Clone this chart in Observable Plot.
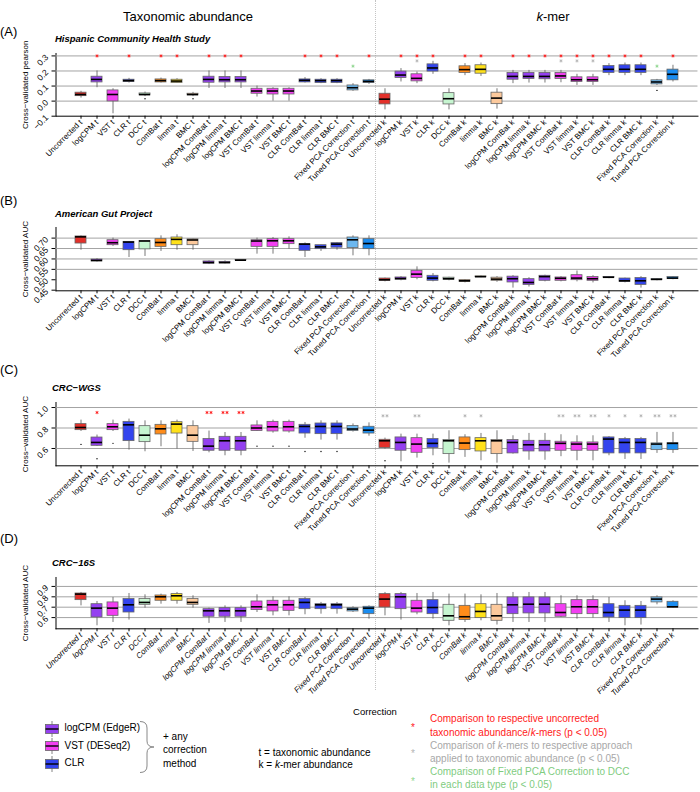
<!DOCTYPE html>
<html><head><meta charset="utf-8">
<script src="https://cdn.jsdelivr.net/npm/d3@7"></script>
<script src="https://cdn.jsdelivr.net/npm/@observablehq/plot@0.6"></script>
<style>
body{margin:0;background:#fff;}
#fig{position:relative;width:700px;height:792px;font-family:"Liberation Sans",Arial,Helvetica,sans-serif;overflow:hidden;background:#fff;}
.abs{position:absolute;white-space:nowrap;line-height:1;}
.panel{position:absolute;left:0;}
.panel svg{overflow:visible;}
.panel g[aria-label="y-axis tick label"]{font-size:8.5px;}
#pD g[aria-label="x-axis tick label"] text{font-style:italic;}
.sep{position:absolute;left:375px;top:0;height:690px;border-left:1.5px dotted #c4c4c4;}
</style></head><body>
<div id="fig">
  <div class="sep"></div>
  <div id="pA" class="panel"></div>
  <div id="pB" class="panel"></div>
  <div id="pC" class="panel"></div>
  <div id="pD" class="panel"></div>
  <div class="abs" style="left:188px;top:10px;font-size:13px;transform:translateX(-50%)">Taxonomic abundance</div>
  <div class="abs" style="left:553px;top:10px;font-size:13px;transform:translateX(-50%)"><i>k</i>-mer</div>
  <div class="abs" style="left:0;top:25px;font-size:13px">(A)</div>
  <div class="abs" style="left:55px;top:34px;font-size:9.5px;font-weight:bold;font-style:italic">Hispanic Community Health Study</div>
  <div class="abs" style="left:0;top:193.5px;font-size:13px">(B)</div>
  <div class="abs" style="left:55px;top:208.5px;font-size:9.5px;font-weight:bold;font-style:italic">American Gut Project</div>
  <div class="abs" style="left:0;top:363px;font-size:13px">(C)</div>
  <div class="abs" style="left:52px;top:383px;font-size:9.5px;font-weight:bold;font-style:italic">CRC−WGS</div>
  <div class="abs" style="left:0;top:532px;font-size:13px">(D)</div>
  <div class="abs" style="left:52px;top:557.5px;font-size:9.5px;font-weight:bold;font-style:italic">CRC−16S</div>
  <div class="abs" style="left:375px;top:707px;font-size:9.5px;transform:translateX(-50%)">Correction</div>
  <div id="legend"></div>
</div>
<script>
// ---------- categories ----------
const base = ["Uncorrected","logCPM","VST","CLR","DCC","ComBat","limma","BMC","logCPM ComBat","logCPM limma","logCPM BMC","VST ComBat","VST limma","VST BMC","CLR ComBat","CLR limma","CLR BMC","Fixed PCA Correction","Tuned PCA Correction"];
const baseColors = ["#e3302a","#9440f0","#f23ff2","#3344ee","#c6f5d0","#ff8c1a","#ffe11a","#fcc99c","#9440f0","#9440f0","#9440f0","#f23ff2","#f23ff2","#f23ff2","#3344ee","#3344ee","#3344ee","#6cb8f0","#1a8cf0"];
const categories = [...base.map(b => b + " t"), ...base.map(b => b + " k")];

// ---------- Panel A: Hispanic Community Health Study (pearson) ----------
const aLo  = [0.02,0.089,-0.084,0.12,0.03,0.12,0.12,0.03,0.084,0.084,0.084,0.027,0.0,0.0,0.12,0.116,0.116,0.065,0.111,
              -0.058,0.127,0.116,0.178,-0.058,0.169,0.164,-0.053,0.116,0.12,0.12,0.122,0.104,0.104,0.169,0.169,0.169,0.104,0.127];
const aQ1  = [0.033,0.124,-0.002,0.127,0.038,0.124,0.12,0.038,0.122,0.124,0.124,0.049,0.044,0.044,0.124,0.12,0.12,0.071,0.12,
              -0.022,0.153,0.131,0.196,-0.022,0.187,0.182,-0.02,0.142,0.147,0.145,0.147,0.127,0.127,0.187,0.187,0.187,0.111,0.138];
const aMed = [0.044,0.144,0.044,0.136,0.044,0.136,0.133,0.044,0.144,0.142,0.142,0.067,0.067,0.067,0.138,0.136,0.136,0.089,0.131,
              0.013,0.173,0.151,0.22,0.016,0.209,0.211,0.02,0.164,0.164,0.164,0.167,0.142,0.142,0.211,0.211,0.211,0.127,0.178];
const aQ3  = [0.056,0.162,0.071,0.142,0.051,0.144,0.142,0.049,0.162,0.16,0.16,0.082,0.082,0.082,0.144,0.142,0.142,0.104,0.138,
              0.049,0.196,0.178,0.244,0.053,0.231,0.238,0.056,0.187,0.187,0.187,0.187,0.158,0.158,0.233,0.238,0.238,0.138,0.209];
const aHi  = [0.065,0.2,0.082,0.151,0.06,0.153,0.149,0.058,0.2,0.2,0.2,0.1,0.089,0.089,0.156,0.149,0.149,0.116,0.144,
              0.082,0.216,0.193,0.264,0.082,0.249,0.253,0.082,0.204,0.204,0.204,0.204,0.178,0.178,0.249,0.253,0.253,0.144,0.238];
const aOutIdx = [4,7,36];
const aOutVal = [0.016,0.016,0.071];
const aRedIdx = [1,3,5,6,8,9,10,14,15,16,18,20,21,22,24,25,27,28,29,30,31,32,33,34,35,37];
const aGrayIdx = [21,30,31,32];
const aGreenIdx = [17,36];

// ---------- Panel B: American Gut Project (AUC) ----------
const bLo  = [0.642,0.585,0.66,0.607,0.612,0.636,0.642,0.642,0.573,0.576,0.593,0.623,0.623,0.647,0.607,0.636,0.642,0.615,0.615,
              0.49,0.495,0.5,0.49,0.495,0.485,0.51,0.488,0.46,0.465,0.49,0.49,0.49,0.485,0.505,0.485,0.46,0.495,0.5];
const bQ1  = [0.674,0.588,0.666,0.642,0.646,0.658,0.666,0.666,0.577,0.578,0.593,0.658,0.658,0.671,0.639,0.647,0.654,0.652,0.647,
              0.495,0.5,0.508,0.495,0.5,0.49,0.512,0.495,0.487,0.475,0.495,0.495,0.498,0.495,0.509,0.49,0.475,0.498,0.503];
const bMed = [0.706,0.593,0.678,0.681,0.686,0.679,0.694,0.691,0.583,0.583,0.594,0.686,0.687,0.687,0.671,0.658,0.671,0.692,0.674,
              0.5,0.506,0.527,0.508,0.505,0.495,0.515,0.503,0.505,0.487,0.515,0.507,0.508,0.505,0.512,0.495,0.495,0.502,0.508];
const bQ3  = [0.708,0.597,0.69,0.682,0.686,0.695,0.703,0.694,0.588,0.586,0.595,0.69,0.695,0.695,0.671,0.666,0.676,0.703,0.695,
              0.506,0.511,0.543,0.519,0.51,0.498,0.516,0.51,0.515,0.503,0.519,0.511,0.522,0.513,0.513,0.506,0.508,0.503,0.513];
const bHi  = [0.711,0.601,0.70,0.683,0.687,0.711,0.716,0.695,0.591,0.591,0.596,0.70,0.703,0.706,0.677,0.666,0.679,0.711,0.711,
              0.508,0.515,0.562,0.53,0.512,0.5,0.518,0.515,0.52,0.51,0.522,0.515,0.542,0.52,0.515,0.508,0.515,0.505,0.515];

// ---------- Panel C: CRC-WGS (AUC) ----------
const cLo  = [0.766,0.62,0.766,0.584,0.568,0.617,0.594,0.571,0.558,0.529,0.529,0.766,0.75,0.75,0.70,0.682,0.682,0.76,0.72,
              0.594,0.47,0.506,0.529,0.457,0.513,0.48,0.457,0.545,0.485,0.485,0.52,0.48,0.48,0.529,0.493,0.493,0.552,0.552];
const cQ1  = [0.779,0.626,0.779,0.672,0.662,0.737,0.746,0.665,0.578,0.578,0.578,0.77,0.766,0.766,0.746,0.74,0.74,0.77,0.746,
              0.604,0.578,0.558,0.604,0.545,0.584,0.571,0.545,0.552,0.571,0.571,0.578,0.578,0.578,0.552,0.552,0.552,0.584,0.584];
const cMed = [0.805,0.659,0.812,0.831,0.73,0.792,0.838,0.73,0.623,0.675,0.675,0.80,0.812,0.812,0.815,0.815,0.815,0.79,0.779,
              0.675,0.659,0.643,0.65,0.675,0.653,0.675,0.675,0.659,0.636,0.636,0.65,0.643,0.643,0.692,0.659,0.659,0.643,0.65];
const cQ3  = [0.838,0.707,0.838,0.86,0.818,0.831,0.857,0.818,0.692,0.714,0.714,0.825,0.86,0.86,0.831,0.844,0.844,0.82,0.812,
              0.685,0.708,0.701,0.692,0.682,0.708,0.701,0.682,0.682,0.675,0.675,0.666,0.659,0.659,0.708,0.692,0.692,0.65,0.652];
const cHi  = [0.877,0.731,0.877,0.887,0.87,0.87,0.877,0.87,0.77,0.756,0.756,0.87,0.877,0.877,0.854,0.87,0.87,0.84,0.85,
              0.701,0.74,0.74,0.74,0.773,0.734,0.747,0.773,0.724,0.747,0.747,0.734,0.724,0.724,0.715,0.708,0.708,0.757,0.757];
const cOutIdx = [0,1,2,11,12,13,14,15,16,19,22];
const cOutVal = [0.64,0.50,0.65,0.623,0.623,0.623,0.571,0.571,0.571,0.48,0.454];
const cRedIdx = [1,8,9,10];
const cRedCount = [1,2,2,2];
const cGrayIdx = [19,21,24,25,30,31,32,33,34,35,36,37];
const cGrayCount = [2,2,1,1,2,2,2,1,1,1,2,2];

// ---------- Panel D: CRC-16S (AUC) ----------
const dLo  = [0.713,0.521,0.553,0.576,0.691,0.729,0.729,0.691,0.544,0.553,0.553,0.649,0.617,0.617,0.627,0.633,0.633,0.649,0.585,
              0.617,0.576,0.627,0.585,0.521,0.553,0.569,0.528,0.553,0.553,0.553,0.601,0.585,0.595,0.553,0.521,0.528,0.723,0.691];
const dQ1  = [0.768,0.601,0.617,0.649,0.723,0.762,0.762,0.723,0.608,0.608,0.608,0.672,0.659,0.665,0.681,0.681,0.681,0.659,0.633,
              0.697,0.681,0.649,0.633,0.569,0.576,0.595,0.569,0.633,0.64,0.64,0.608,0.633,0.633,0.601,0.595,0.595,0.746,0.697];
const dMed = [0.826,0.691,0.691,0.723,0.746,0.80,0.81,0.746,0.665,0.665,0.665,0.704,0.723,0.723,0.746,0.723,0.723,0.681,0.691,
              0.778,0.80,0.691,0.697,0.617,0.608,0.659,0.617,0.723,0.729,0.729,0.649,0.704,0.704,0.649,0.672,0.672,0.778,0.704];
const dQ3  = [0.832,0.729,0.746,0.778,0.778,0.813,0.826,0.778,0.681,0.691,0.691,0.755,0.762,0.762,0.778,0.729,0.729,0.691,0.704,
              0.826,0.826,0.762,0.768,0.723,0.713,0.729,0.723,0.794,0.794,0.794,0.729,0.768,0.768,0.729,0.713,0.713,0.794,0.752];
const dHi  = [0.842,0.755,0.794,0.832,0.819,0.826,0.842,0.81,0.691,0.713,0.713,0.819,0.80,0.80,0.794,0.746,0.746,0.704,0.713,
              0.842,0.842,0.832,0.842,0.826,0.826,0.819,0.832,0.842,0.842,0.842,0.81,0.81,0.81,0.794,0.762,0.755,0.81,0.762];

// ---------- panel configs ----------
const RED = "#ff1a1a", GRAY = "#b4b4b4", GREEN = "#8fd68f";
const panels = [
  {id:"pA", top:43.3, h:62.7, domain:[-0.1,0.316], ticks:[-0.1,0,0.1,0.2,0.3], fmt:".1f", grid:[0,0.1,0.2,0.3],
   label:"Cross−validated pearson", lo:aLo, q1:aQ1, med:aMed, q3:aQ3, hi:aHi, outIdx:aOutIdx, outVal:aOutVal,
   stars:[{idx:aRedIdx, y:0.3, count:1, color:RED},{idx:aGrayIdx, y:0.267, count:1, color:GRAY},{idx:aGreenIdx, y:0.232, count:1, color:GREEN}]},
  {id:"pB", top:216.7, h:63.3, domain:[0.447,0.751], ticks:[0.45,0.5,0.55,0.6,0.65,0.7], fmt:".2f", grid:[0.55,0.6,0.65,0.7],
   label:"Cross−validated AUC", lo:bLo, q1:bQ1, med:bMed, q3:bQ3, hi:bHi, outIdx:[], outVal:[], stars:[]},
  {id:"pC", top:391.7, h:63.3, domain:[0.431,1.049], ticks:[0.6,0.8,1.0], fmt:".1f", grid:[0.6,0.8,1.0],
   label:"Cross−validated AUC", lo:cLo, q1:cQ1, med:cMed, q3:cQ3, hi:cHi, outIdx:cOutIdx, outVal:cOutVal,
   stars:[{idx:cRedIdx, y:0.951, count:cRedCount, color:RED},{idx:cGrayIdx, y:0.919, count:cGrayCount, color:GRAY}]},
  {id:"pD", top:566.7, h:51.3, domain:[0.492,0.986], ticks:[0.6,0.7,0.8,0.9], fmt:".1f", grid:[0.6,0.7,0.8,0.9],
   label:"Cross−validated AUC", lo:dLo, q1:dQ1, med:dMed, q3:dQ3, hi:dHi, outIdx:[], outVal:[], stars:[]}
];

const MT = 10, MB = 80;
for (const p of panels) {
  const rows = categories.map((c, i) => ({cat:c, lo:p.lo[i], q1:p.q1[i], med:p.med[i], q3:p.q3[i], hi:p.hi[i], color:baseColors[i % base.length]}));
  const outs = p.outIdx.map((i, j) => ({cat:categories[i], v:p.outVal[j]}));
  // significance asterisks: one centred, or a pair side by side
  const stars = p.stars.flatMap(s => s.idx.flatMap((i, j) => {
    const n = Array.isArray(s.count) ? s.count[j] : s.count;
    return n === 1 ? [{cat:categories[i], v:s.y, c:s.color, side:"C"}]
                   : [{cat:categories[i], v:s.y, c:s.color, side:"L"}, {cat:categories[i], v:s.y, c:s.color, side:"R"}];
  }));
  const starOpts = {x:"cat", y:"v", symbol:"asterisk", r:1.5, stroke:"c", strokeWidth:0.9};
  const chart = Plot.plot({
    width:700, height:MT + p.h + MB, marginTop:MT, marginBottom:MB, marginLeft:55.5, marginRight:2.5,
    style:{fontFamily:'"Liberation Sans",Arial,sans-serif', fontSize:"8px", background:"transparent", overflow:"visible"},
    x:{domain:categories, padding:0.34, tickRotate:-45, tickSize:3, tickPadding:2, label:null, line:true},
    y:{domain:p.domain, ticks:p.ticks, tickFormat:d3.format(p.fmt), tickRotate:-45, tickSize:4, line:true,
       label:p.label, labelAnchor:"center", labelOffset:34, labelArrow:"none"},
    color:{type:"identity"},
    marks:[
      Plot.ruleY(p.grid, {stroke:"#a3a3a3", strokeWidth:1}),
      Plot.ruleX(rows, {x:"cat", y1:"lo", y2:"hi", stroke:"#555", strokeWidth:0.8}),
      Plot.barY(rows, {x:"cat", y1:"q1", y2:"q3", fill:"color", stroke:"#666", strokeWidth:0.8}),
      Plot.tickY(rows, {x:"cat", y:"med", stroke:"#000", strokeWidth:1.6}),
      Plot.dot(outs, {x:"cat", y:"v", r:0.7, fill:"#000", stroke:null}),
      Plot.dot(stars.filter(s => s.side === "C"), starOpts),
      Plot.dot(stars.filter(s => s.side === "L"), {...starOpts, dx:-2}),
      Plot.dot(stars.filter(s => s.side === "R"), {...starOpts, dx:2})
    ]
  });
  const host = document.getElementById(p.id);
  host.style.top = p.top + "px";
  host.appendChild(chart);
}

// ---------- legend (bottom) ----------
const legendLabels = ["logCPM (EdgeR)","VST (DESeq2)","CLR"];
const legendColors = ["#9440f0","#f23ff2","#3344ee"];
const legendRowsY = [728.5, 746, 763.5];
const noteLines = [
  {star:RED, starY:726.7, color:RED, lines:["Comparison to respective uncorrected","taxonomic abundance/<i>k</i>-mers (p &lt; 0.05)"], y:[719.3,733.3]},
  {star:GRAY, starY:753.3, color:"#a8a8a8", lines:["Comparison of <i>k</i>-mers to respective approach","applied to taxonomic abundance (p &lt; 0.05)"], y:[746,759.3]},
  {star:GREEN, starY:780.7, color:"#7fcc7f", lines:["Comparison of Fixed PCA Correction to DCC","in each data type (p &lt; 0.05)"], y:[772.7,785]}
];
let html = "";
legendLabels.forEach((lab, i) => {
  const cy = legendRowsY[i];
  html += `<svg class="abs" style="left:44px;top:${cy-9}px" width="16" height="18"><line x1="8" x2="8" y1="1" y2="17" stroke="#666" stroke-width="0.8"/><rect x="1.5" y="4.5" width="13" height="9" fill="${legendColors[i]}" stroke="#666" stroke-width="0.8"/><line x1="1.5" x2="14.5" y1="9" y2="9" stroke="#000" stroke-width="1.4"/></svg>`;
  html += `<div class="abs" style="left:64.5px;top:${cy-5.5}px;font-size:10px">${lab}</div>`;
});
html += `<svg class="abs" style="left:138px;top:720px" width="22" height="54"><path d="M2,1.5 Q9,1.5 9,8 L9,21 Q9,27 16,27 Q9,27 9,33 L9,46 Q9,52.5 2,52.5" fill="none" stroke="#888" stroke-width="1"/></svg>`;
[["+ any",731.5],["correction",745],["method",758.5]].forEach(([t, y]) => {
  html += `<div class="abs" style="left:163px;top:${y}px;font-size:10px">${t}</div>`;
});
html += `<div class="abs" style="left:258.5px;top:748px;font-size:10px">t = taxonomic abundance</div>`;
html += `<div class="abs" style="left:258.5px;top:760px;font-size:10px">k = <i>k</i>-mer abundance</div>`;
noteLines.forEach(n => {
  html += `<div class="abs" style="left:411px;top:${n.starY-4}px;font-size:10px;color:${n.star}">*</div>`;
  n.lines.forEach((l, j) => {
    html += `<div class="abs" style="left:430px;top:${n.y[j]-5.5}px;font-size:10px;color:${n.color}">${l}</div>`;
  });
});
document.getElementById("legend").innerHTML = html;
</script>
</body></html>
